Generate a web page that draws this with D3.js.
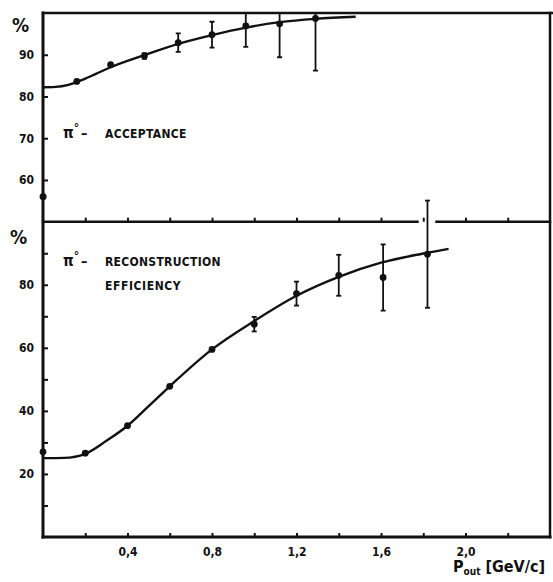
<!DOCTYPE html>
<html>
<head>
<meta charset="utf-8">
<script src="https://cdn.jsdelivr.net/npm/d3@7"></script>
<style>
  body { margin: 0; background: #fff; }
  svg { display: block; }
  text { font-family: "DejaVu Sans Condensed", "DejaVu Sans", sans-serif; font-weight: bold; fill: #111; }
</style>
</head>
<body>
<svg class="chart"></svg>
<script>
// top panel: pi0 acceptance (%)
var accP   = [0.0, 0.16, 0.32, 0.48, 0.64, 0.80, 0.96, 1.12, 1.29];
var accVal = [56, 83.6, 87.6, 89.7, 92.9, 94.8, 96.9, 97.4, 98.7];
var accErr = [0, 0, 0, 0.7, 2.2, 3.1, 5, 8, 12.5];
var accFitP = [0, 0.06, 0.12, 0.2, 0.32, 0.48, 0.64, 0.80, 0.96, 1.12, 1.29, 1.48];
var accFitV = [82.2, 82.3, 82.8, 84.3, 87.0, 89.9, 92.6, 94.7, 96.5, 97.8, 98.6, 99.1];

// bottom panel: pi0 reconstruction efficiency (%)
var effP   = [0.0, 0.2, 0.4, 0.6, 0.8, 1.0, 1.2, 1.4, 1.61, 1.82];
var effVal = [27, 26.6, 35.3, 47.8, 59.5, 67.5, 77.2, 83.0, 82.3, 89.7];
var effErr = [0, 0, 0, 0, 0, 2.3, 3.8, 6.5, 10.5, 17];
var effFitP = [0, 0.1, 0.2, 0.3, 0.4, 0.5, 0.6, 0.8, 1.0, 1.2, 1.4, 1.6, 1.8, 1.92];
var effFitV = [25, 25.1, 26.4, 30.5, 35.3, 41.5, 47.8, 59.5, 68.5, 76.5, 82.5, 87.0, 89.9, 91.4];

var xTicks = [0.2, 0.4, 0.6, 0.8, 1.0, 1.2, 1.4, 1.6, 1.8, 2.0, 2.2];
var xLabels = ["0,4", "0,8", "1,2", "1,6", "2,0"];
var accTicks = [60, 70, 80, 90];
var effTicks = [10, 20, 30, 40, 50, 60, 70, 80, 90];

var W = 553, H = 582;
var pLeft = 43, pRight = 550, pTop = 13, pMid = 221.7, pBottom = 537;
var ink = "#111";

var svg = d3.select(".chart").attr("width", W).attr("height", H);

var x = d3.scaleLinear().domain([0, 2.4]).range([pLeft, pRight]);
var yA = d3.scaleLinear().domain([50, 100]).range([pMid, pTop]);
var yE = d3.scaleLinear().domain([0, 100]).range([pBottom, pMid]);

var line = d3.line().curve(d3.curveMonotoneX);

svg.append("defs").append("clipPath").attr("id", "clipTop")
  .append("rect").attr("x", pLeft).attr("y", pTop).attr("width", pRight - pLeft).attr("height", pMid - pTop);

// left axes (ticks point inward, labels outside)
function fmtEvenTens(d) { return d % 20 == 0 ? d : ""; }

svg.append("g").attr("transform", "translate(" + pLeft + ",0)")
  .call(d3.axisLeft(yA).tickValues(accTicks).tickSizeInner(-5).tickSizeOuter(0).tickPadding(9))
  .call(function(g) { g.select(".domain").remove(); });

svg.append("g").attr("transform", "translate(" + pLeft + ",0)")
  .call(d3.axisLeft(yE).tickValues(effTicks).tickFormat(fmtEvenTens).tickSizeInner(-5).tickSizeOuter(0).tickPadding(9))
  .call(function(g) { g.select(".domain").remove(); });

// x ticks on the bottom axis and on the divider line
svg.append("g").attr("transform", "translate(0," + pBottom + ")")
  .call(d3.axisBottom(x).tickValues(xTicks).tickSizeInner(-4).tickSizeOuter(0).tickPadding(10)
    .tickFormat(function(d) {
      var s = d3.format(".1f")(d).replace(".", ",");
      return xLabels.indexOf(s) >= 0 ? s : "";
    }))
  .call(function(g) { g.select(".domain").remove(); });

svg.append("g").attr("transform", "translate(0," + pMid + ")")
  .call(d3.axisBottom(x).tickValues(xTicks).tickSizeInner(-4).tickSizeOuter(0).tickFormat(""))
  .call(function(g) { g.select(".domain").remove(); });

svg.selectAll(".tick line").attr("stroke", ink).attr("stroke-width", 2);
svg.selectAll(".tick text").attr("font-size", 12).attr("font-family", "DejaVu Sans Condensed, DejaVu Sans, sans-serif")
  .attr("font-weight", "bold").attr("fill", ink);

// frame
var frame = svg.append("g").attr("stroke", ink).attr("fill", "none").attr("stroke-linecap", "square");
frame.append("line").attr("x1", pLeft).attr("x2", pLeft).attr("y1", pTop).attr("y2", pBottom).attr("stroke-width", 3);
frame.append("line").attr("x1", pLeft).attr("x2", pRight).attr("y1", pBottom).attr("y2", pBottom).attr("stroke-width", 3);
frame.append("line").attr("x1", pLeft).attr("x2", W).attr("y1", pTop).attr("y2", pTop).attr("stroke-width", 2.5);
frame.append("line").attr("x1", pRight).attr("x2", pRight).attr("y1", pTop).attr("y2", pBottom).attr("stroke-width", 2.5);
// divider, broken where the last error bar crosses it
var gapC = x(effP[effP.length - 1]);
frame.append("line").attr("x1", pLeft).attr("x2", gapC - 10).attr("y1", pMid).attr("y2", pMid).attr("stroke-width", 2.5);
frame.append("line").attr("x1", gapC + 9).attr("x2", pRight).attr("y1", pMid).attr("y2", pMid).attr("stroke-width", 2.5);

// panels
function panel(g, y, P, V, E, fitP, fitV) {
  g.append("path")
    .attr("d", line(fitP.map(function(p, i) { return [x(p), y(fitV[i])]; })))
    .attr("fill", "none").attr("stroke", ink).attr("stroke-width", 2.4);

  var pts = P.map(function(p, i) { return { p: p, v: V[i], e: E[i] }; });
  var eb = g.selectAll(".err").data(pts.filter(function(d) { return d.e > 0; }))
    .enter().append("g").attr("class", "err").attr("stroke", ink).attr("stroke-width", 1.8);
  eb.append("line")
    .attr("x1", function(d) { return x(d.p); }).attr("x2", function(d) { return x(d.p); })
    .attr("y1", function(d) { return y(d.v - d.e); }).attr("y2", function(d) { return y(d.v + d.e); });
  eb.append("line")
    .attr("x1", function(d) { return x(d.p) - 2.5; }).attr("x2", function(d) { return x(d.p) + 2.5; })
    .attr("y1", function(d) { return y(d.v - d.e); }).attr("y2", function(d) { return y(d.v - d.e); });
  eb.append("line")
    .attr("x1", function(d) { return x(d.p) - 2.5; }).attr("x2", function(d) { return x(d.p) + 2.5; })
    .attr("y1", function(d) { return y(d.v + d.e); }).attr("y2", function(d) { return y(d.v + d.e); });

  g.selectAll(".pt").data(pts).enter().append("circle").attr("class", "pt")
    .attr("cx", function(d) { return x(d.p); }).attr("cy", function(d) { return y(d.v); })
    .attr("r", 3.4).attr("fill", ink);
}

panel(svg.append("g").attr("clip-path", "url(#clipTop)"), yA, accP, accVal, accErr, accFitP, accFitV);
// the p=0 acceptance point sits on the axis; redraw it unclipped
svg.append("circle").attr("cx", x(accP[0])).attr("cy", yA(accVal[0])).attr("r", 3.4).attr("fill", ink);
panel(svg.append("g"), yE, effP, effVal, effErr, effFitP, effFitV);

// labels
svg.append("text").attr("x", 12).attr("y", 32).attr("font-size", 19).text("%");
svg.append("text").attr("x", 10).attr("y", 244).attr("font-size", 19).text("%");

function piLabel(tx, ty) {
  var t = svg.append("text").attr("x", tx).attr("y", ty).attr("font-size", 12);
  t.append("tspan").attr("font-size", 15).text("π");
  t.append("tspan").attr("dy", -6).attr("font-size", 12).text("°");
  t.append("tspan").attr("dy", 6).attr("dx", 2).attr("font-size", 14).text("–");
  return t;
}
piLabel(63, 138);
svg.append("text").attr("x", 105).attr("y", 138).attr("font-size", 12).attr("letter-spacing", 0.3).text("ACCEPTANCE");
piLabel(63, 266);
svg.append("text").attr("x", 105).attr("y", 266).attr("font-size", 12).attr("letter-spacing", 0.3).text("RECONSTRUCTION");
svg.append("text").attr("x", 105).attr("y", 290).attr("font-size", 12).attr("letter-spacing", 0.6).text("EFFICIENCY");

var xl = svg.append("text").attr("x", 453).attr("y", 572).attr("font-size", 16);
xl.append("tspan").text("P");
xl.append("tspan").attr("dy", 3).attr("font-size", 10).text("out");
xl.append("tspan").attr("dy", -3).attr("dx", 5).text("[GeV/c]");
</script>
</body>
</html>
